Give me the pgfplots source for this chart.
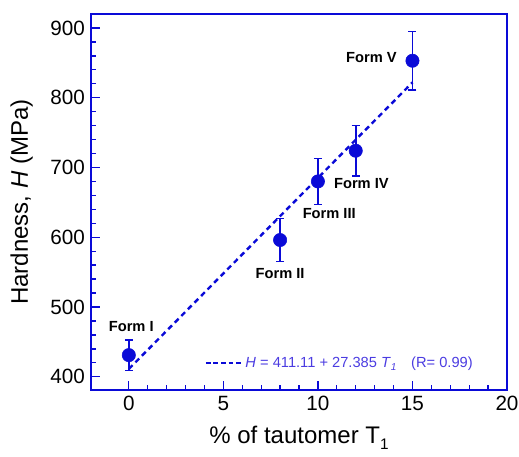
\documentclass[border=0pt]{standalone}
\usepackage{pgfplots}
\pgfplotsset{compat=1.18}
\usepackage{fontspec}
\setmainfont{Liberation Sans}
\definecolor{axblue}{RGB}{10,10,215}
\definecolor{legblue}{RGB}{75,60,225}
\begin{document}
\begin{tikzpicture}
\useasboundingbox (-68.25pt,-50.25pt) rectangle (321pt,292.5pt);
\begin{axis}[
  at={(0,0)}, anchor=south west,
  scale only axis,
  width=312pt, height=282pt,
  xmin=-2, xmax=20, ymin=381, ymax=920,
  xtick={0,5,10,15,20},
  ytick={400,500,600,700,800,900},
  minor x tick num=4,
  minor y tick num=4,
  tick align=inside,
  xtick pos=bottom, ytick pos=left,
  major tick length=6.5pt, minor tick length=3.5pt,
  axis line style={axblue, line width=1.7pt},
  every tick/.style={axblue, line width=1pt},
  /pgf/number format/assume math mode=true,
  ticklabel style={font=\fontsize{15.5}{17}\selectfont},
  yticklabel style={xshift=-1pt},
  xticklabel style={yshift=-1pt},
  xlabel={\% of tautomer T\raisebox{-0.45ex}{\fontsize{11.5}{12}\selectfont 1}},
  ylabel={Hardness, \textit{H} (MPa)},
  label style={font=\fontsize{18}{20}\selectfont},
  xlabel style={at={(axis description cs:0.5,0)}, anchor=center, yshift=-36pt},
  ylabel style={at={(axis description cs:0,0.5)}, anchor=center, yshift=52pt},
  legend style={draw=none, fill=none, at={(axis cs:3.8,420)}, anchor=west,
    font=\fontsize{11}{12}\selectfont, text=legblue,
    legend cell align=left},
  legend image code/.code={\draw[#1] (0pt,0pt) -- (27pt,0pt);},
  clip=false,
]
\addplot[axblue, line width=1.8pt, dash pattern=on 4pt off 3pt, forget plot]
  coordinates {(0,411.11) (15,821.885)};
\addplot[axblue, only marks, mark=*, mark size=5pt, mark options={fill=axblue, draw=axblue}, forget plot,
  error bars/.cd, y dir=both, y explicit,
  error bar style={line width=1.2pt, axblue},
  error mark options={rotate=90, mark size=3pt, line width=1.2pt, axblue}]
  coordinates {
  (0,431) +- (0,22)
  (8,596) +- (0,31)
  (10,680) +- (0,33)
  (12,724) +- (0,36)
  (15,853) +- (0,42)
  };
\addlegendimage{axblue, line width=1.4pt, dash pattern=on 3.5pt off 2.2pt}
\addlegendentry{\textit{H} = 411.11 + 27.385 \textit{T}\raisebox{-0.5ex}{\textit{\fontsize{7.5}{8}\selectfont 1}}\quad (R= 0.99)}
\begin{scope}[every node/.style={font=\bfseries\fontsize{11}{12}\selectfont}]
\node at (axis cs:0.13,472) {Form I};
\node at (axis cs:8.0,548) {Form II};
\node at (axis cs:10.6,634) {Form III};
\node at (axis cs:12.3,677) {Form IV};
\node[anchor=east] at (axis cs:14.42,857) {Form V};
\end{scope}
\end{axis}
\end{tikzpicture}
\end{document}
